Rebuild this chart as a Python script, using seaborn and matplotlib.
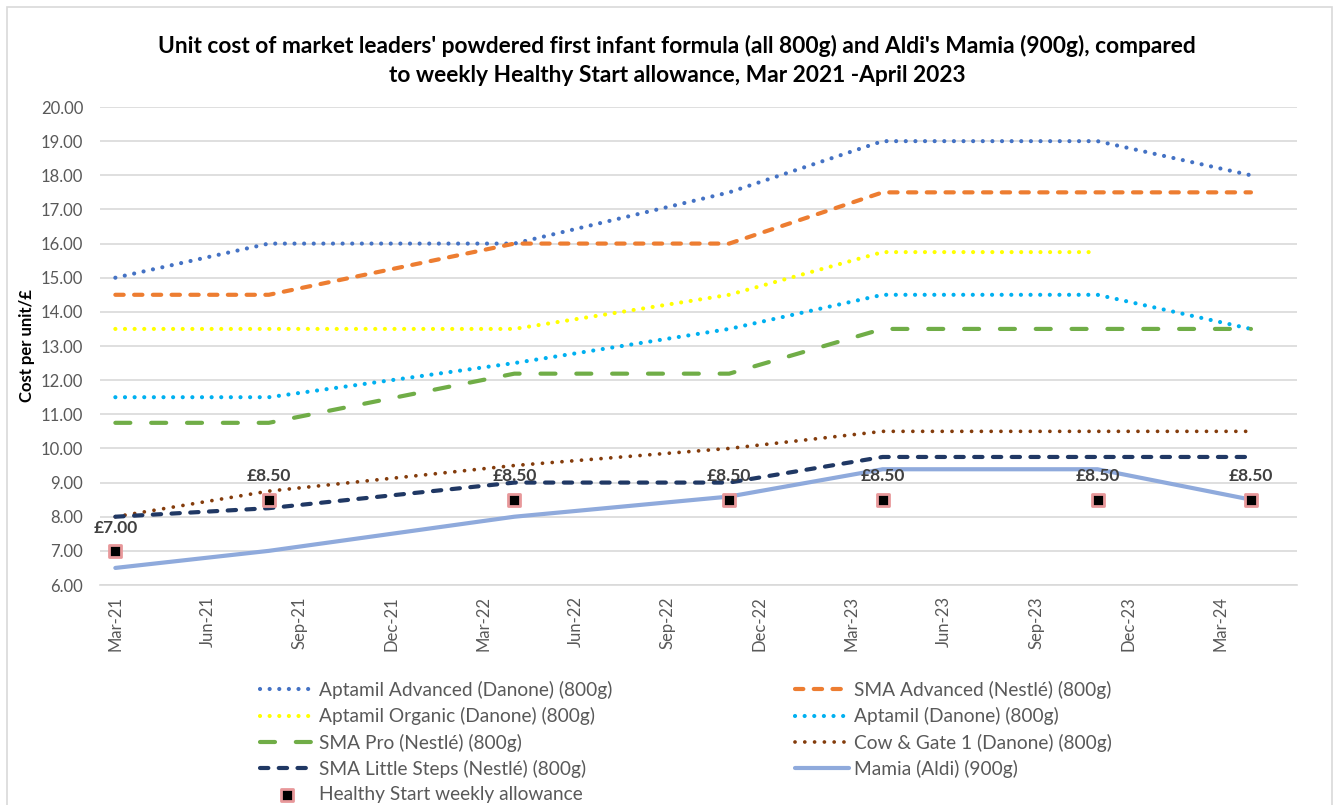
import pandas as pd
import matplotlib
matplotlib.use('Agg')
import matplotlib.pyplot as plt
from matplotlib.patches import Rectangle
import seaborn as sns


# survey dates (year-month) and prices in GBP
dates = ['2021-03', '2021-08', '2022-04', '2022-11', '2023-04', '2023-11', '2024-04']

aptamil_advanced = [15.00, 16.00, 16.00, 17.50, 19.00, 19.00, 18.00]
sma_advanced = [14.50, 14.50, 16.00, 16.00, 17.50, 17.50, 17.50]
aptamil_organic = [13.50, 13.50, 13.50, 14.50, 15.75, 15.75, None]
aptamil = [11.50, 11.50, 12.50, 13.50, 14.50, 14.50, 13.50]
sma_pro = [10.75, 10.75, 12.19, 12.19, 13.50, 13.50, 13.50]
cow_gate = [8.00, 8.75, 9.50, 10.00, 10.50, 10.50, 10.50]
sma_little_steps = [8.00, 8.25, 9.00, 9.00, 9.75, 9.75, 9.75]
mamia = [6.50, 7.00, 8.00, 8.59, 9.39, 9.39, 8.50]
healthy_start = [7.00, 8.50, 8.50, 8.50, 8.50, 8.50, 8.50]

tick_labels = ['Mar-21', 'Jun-21', 'Sep-21', 'Dec-21', 'Mar-22', 'Jun-22', 'Sep-22',
               'Dec-22', 'Mar-23', 'Jun-23', 'Sep-23', 'Dec-23', 'Mar-24']

# month index from Mar 2021, plotted at the middle of the month (excel month axis)
def month_pos(d):
    y, m = d.split('-')
    return (int(y) - 2021) * 12 + (int(m) - 3) + 0.5

df = pd.DataFrame({'x': [month_pos(d) for d in dates],
                   'Aptamil Advanced (Danone) (800g)': aptamil_advanced,
                   'SMA Advanced (Nestlé) (800g)': sma_advanced,
                   'Aptamil Organic (Danone) (800g)': aptamil_organic,
                   'Aptamil (Danone) (800g)': aptamil,
                   'SMA Pro (Nestlé) (800g)': sma_pro,
                   'Cow & Gate 1 (Danone) (800g)': cow_gate,
                   'SMA Little Steps (Nestlé) (800g)': sma_little_steps,
                   'Mamia (Aldi) (900g)': mamia,
                   'Healthy Start weekly allowance': healthy_start})

dots = (0, (0.01, 2.3))
dash = (0, (2.0, 2.5))
long_dash = (0, (3.6, 5.0))
series = [
    ('Aptamil Advanced (Danone) (800g)', '#4472C4', dots, 3.0),
    ('SMA Advanced (Nestlé) (800g)', '#ED7D31', dash, 3.0),
    ('Aptamil Organic (Danone) (800g)', '#FFFF00', dots, 3.0),
    ('Aptamil (Danone) (800g)', '#00B0F0', dots, 3.0),
    ('SMA Pro (Nestlé) (800g)', '#70AD47', long_dash, 3.0),
    ('Cow & Gate 1 (Danone) (800g)', '#843C0C', (0, (0.01, 2.6)), 2.7),
    ('SMA Little Steps (Nestlé) (800g)', '#203864', dash, 3.0),
    ('Mamia (Aldi) (900g)', '#8FAADC', '-', 3.0),
]

sns.set_theme(style='white')
plt.rcParams['font.family'] = ['Lato', 'DejaVu Sans']

fig = plt.figure(figsize=(13.38, 8.05), dpi=100)
ax = fig.add_axes([100 / 1338, 1 - 585 / 805, 1197 / 1338, 478 / 805])

for name, col, ls, lw in series:
    sns.lineplot(data=df, x='x', y=name, ax=ax, color=col, linestyle=ls, linewidth=lw,
                 dash_capstyle='round', solid_capstyle='round', estimator=None,
                 label=name)

hs = 'Healthy Start weekly allowance'
sns.scatterplot(data=df, x='x', y=hs, ax=ax, marker='s', s=75, color='black',
                edgecolor='#E8989A', linewidth=2, zorder=5, label=hs)
for i, (xv, yv) in enumerate(zip(df['x'], df[hs])):
    ax.annotate(f'£{yv:.2f}', (xv, yv), xytext=(0, 11), textcoords='offset points',
                ha='center', va='bottom', fontsize=12.5, fontweight='bold', color='#404040')

ax.set_ylim(6, 20)
ax.set_xlim(0, 39)
ax.set_yticks(range(6, 21))
ax.set_yticklabels([f'{v:.2f}' for v in range(6, 21)])
ax.set_xticks(range(0, 40, 3))
ax.set_xticklabels([])
ax.set_xticks([0.5 + 3 * k for k in range(13)], minor=True)
ax.set_xticklabels(tick_labels, minor=True, rotation=90)
ax.tick_params(axis='x', which='major', length=6, width=1, color='#D9D9D9', direction='out')
ax.tick_params(axis='x', which='minor', length=0, pad=8, labelsize=12, labelcolor='#595959')
ax.tick_params(axis='y', length=0, pad=12, labelsize=12, labelcolor='#595959')
ax.grid(axis='y', color='#D9D9D9', linewidth=1.2)
ax.set_axisbelow(True)
for s in ['top', 'right', 'left']:
    ax.spines[s].set_visible(False)
ax.spines['bottom'].set_color('#D9D9D9')
ax.spines['bottom'].set_linewidth(1.2)
ax.set_xlabel('')
ax.set_ylabel('Cost per unit/£', fontsize=12, fontweight='bold', color='black', labelpad=4)

ax.set_title("Unit cost of market leaders' powdered first infant formula (all 800g) and Aldi's Mamia (900g), compared\n"
             "to weekly Healthy Start allowance, Mar 2021 -April 2023",
             x=(677 - 100) / 1197, fontsize=16.4, fontweight='bold', color='black',
             pad=18, linespacing=1.45)

handles, labels = ax.get_legend_handles_labels()
lookup = dict(zip(labels, handles))
order = ['Aptamil Advanced (Danone) (800g)', 'Aptamil Organic (Danone) (800g)',
         'SMA Pro (Nestlé) (800g)', 'SMA Little Steps (Nestlé) (800g)', hs,
         'SMA Advanced (Nestlé) (800g)', 'Aptamil (Danone) (800g)',
         'Cow & Gate 1 (Danone) (800g)', 'Mamia (Aldi) (900g)']
ax.legend([lookup[k] for k in order], order, ncol=2, frameon=False,
          loc='upper left', bbox_to_anchor=(260 / 1338, 1 - 681 / 805),
          bbox_transform=fig.transFigure, fontsize=13.8, labelcolor='#595959',
          handlelength=2.8, handletextpad=0.3, columnspacing=9.5,
          labelspacing=0.43, borderaxespad=0, borderpad=0)

fig.patches.append(Rectangle((7 / 1338, -0.05), 1325 / 1338, 1.05 - 7 / 805,
                             transform=fig.transFigure, fill=False,
                             edgecolor='#D9D9D9', linewidth=1.2))

plt.savefig('out.png', dpi=100)
